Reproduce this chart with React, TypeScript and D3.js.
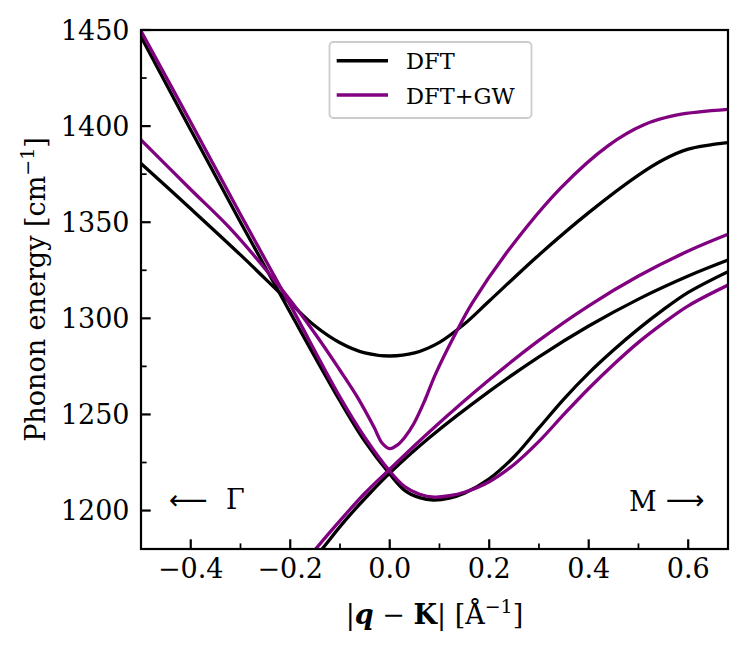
import React, { useEffect } from "react";
import * as d3 from "d3";

// ---- data (q - K in 1/Å, phonon energy in cm^-1) ----
const dft1Q = [-0.5, -0.4, -0.3, -0.2, -0.15, -0.1, -0.05, 0, 0.05, 0.1, 0.15, 0.2, 0.3, 0.4, 0.5, 0.55, 0.6, 0.68];
const dft1E = [1380.6, 1357, 1333, 1308, 1296, 1287.3, 1282, 1280.4, 1282, 1287.5, 1297, 1309, 1333, 1355, 1374.5, 1382.5, 1388, 1391.4];

const dft2Q = [-0.5, -0.4, -0.3, -0.2, -0.1, -0.05, 0, 0.03, 0.06, 0.088, 0.12, 0.15, 0.2, 0.25, 0.3, 0.35, 0.4, 0.45, 0.5, 0.55, 0.6, 0.68];
const dft2E = [1446.5, 1398, 1350, 1303, 1257, 1236, 1219, 1210.5, 1206.7, 1205.5, 1206.5, 1209, 1216.5, 1228, 1243, 1258, 1271.5, 1283.5, 1294.5, 1304.5, 1313.5, 1324.3];

const dft3Q = [-0.16, -0.136, -0.089, -0.04, 0, 0.08, 0.2, 0.3, 0.4, 0.5, 0.6, 0.68];
const dft3E = [1172.5, 1180, 1195, 1209, 1219.5, 1238, 1262, 1280, 1296, 1310, 1322, 1330.3];

const gw1Q = [-0.5, -0.4, -0.318, -0.22, -0.15, -0.1, -0.065, -0.032, -0.015, 0, 0.015, 0.03, 0.048, 0.07, 0.092, 0.132, 0.166, 0.239, 0.343, 0.44, 0.51, 0.578, 0.68];
const gw1E = [1392.8, 1367, 1346, 1316, 1292, 1273, 1259, 1243.6, 1235, 1232.2, 1234, 1238, 1245, 1257, 1271, 1292, 1308, 1335.5, 1367.6, 1390, 1400.6, 1405.8, 1408.7];

const gw2Q = [-0.5, -0.4, -0.3, -0.2, -0.1, -0.05, 0, 0.03, 0.06, 0.09, 0.12, 0.15, 0.2, 0.25, 0.3, 0.35, 0.4, 0.45, 0.5, 0.55, 0.6, 0.68];
const gw2E = [1449.5, 1402, 1354, 1307, 1259, 1238, 1220.5, 1212.5, 1208.5, 1207, 1207.7, 1209.5, 1215, 1224, 1236, 1250, 1263.5, 1276, 1287.5, 1297.5, 1306.5, 1317.3];

const gw3Q = [-0.17, -0.149, -0.099, -0.05, 0, 0.08, 0.2, 0.3, 0.4, 0.5, 0.6, 0.68];
const gw3E = [1173.5, 1180, 1195, 1209, 1221.5, 1241, 1268, 1288.5, 1306.5, 1322, 1335, 1343.7];

const xMajorTicks = [-0.4, -0.2, 0.0, 0.2, 0.4, 0.6];
const xMinorTicks = [-0.5, -0.3, -0.1, 0.1, 0.3, 0.5];
const yMajorTicks = [1200, 1250, 1300, 1350, 1400, 1450];
const yMinorTicks = [1225, 1275, 1325, 1375, 1425];

const seriesNames = ["DFT", "DFT+GW"];
const seriesColors = ["#000000", "#800080"];

const W = 747;
const H = 651;
const L = 141, R = 728, T = 30, B = 549;
const FONT = "DejaVu Serif";

export default function App() {
  useEffect(() => {
    document.body.style.margin = "0";
  }, []);

  const x = d3.scaleLinear().domain([-0.5, 0.68]).range([L, R]);
  const y = d3.scaleLinear().domain([1180, 1450]).range([B, T]);
  const line = d3
    .line<[number, number]>()
    .x((d) => x(d[0]))
    .y((d) => y(d[1]))
    .curve(d3.curveCatmullRom.alpha(0.5));

  const zip = (q: number[], e: number[]) => q.map((v, i) => [v, e[i]] as [number, number]);
  const dftCurves = [zip(dft1Q, dft1E), zip(dft2Q, dft2E), zip(dft3Q, dft3E)];
  const gwCurves = [zip(gw1Q, gw1E), zip(gw2Q, gw2E), zip(gw3Q, gw3E)];

  const fmt = (v: number) => v.toFixed(1).replace("-", "\u2212");
  const tickW = 2.2;

  return (
    <svg width={W} height={H} style={{ position: "absolute", left: 0, top: 0, display: "block" }} fontFamily={FONT}>
      <rect x={0} y={0} width={W} height={H} fill="#fff" />
      <defs>
        <clipPath id="plotClip">
          <rect x={L} y={T} width={R - L} height={B - T} />
        </clipPath>
      </defs>
      <g clipPath="url(#plotClip)">
        {dftCurves.map((c, i) => (
          <path key={"d" + i} d={line(c) || ""} fill="none" stroke={seriesColors[0]} strokeWidth={3.3} />
        ))}
        {gwCurves.map((c, i) => (
          <path key={"g" + i} d={line(c) || ""} fill="none" stroke={seriesColors[1]} strokeWidth={3.3} />
        ))}
      </g>

      {/* ticks */}
      {xMajorTicks.map((t) => (
        <g key={"xm" + t}>
          <line x1={x(t)} x2={x(t)} y1={B} y2={B - 9.7} stroke="#000" strokeWidth={tickW} />
          <text x={x(t)} y={578} fontSize={27} textAnchor="middle">{fmt(t)}</text>
        </g>
      ))}
      {xMinorTicks.map((t) => (
        <line key={"xn" + t} x1={x(t)} x2={x(t)} y1={B} y2={B - 5.6} stroke="#000" strokeWidth={tickW * 0.8} />
      ))}
      {yMajorTicks.map((t) => (
        <g key={"ym" + t}>
          <line x1={L} x2={L + 9.7} y1={y(t)} y2={y(t)} stroke="#000" strokeWidth={tickW} />
          <text x={129.5} y={y(t) + 9.8} fontSize={27} textAnchor="end">{t}</text>
        </g>
      ))}
      {yMinorTicks.map((t) => (
        <line key={"yn" + t} x1={L} x2={L + 5.6} y1={y(t)} y2={y(t)} stroke="#000" strokeWidth={tickW * 0.8} />
      ))}

      {/* frame */}
      <rect x={L} y={T} width={R - L} height={B - T} fill="none" stroke="#000" strokeWidth={2.2} />

      {/* annotations */}
      <text x={169} y={509} fontSize={27} fontFamily="DejaVu Sans">{"\u27F5"}</text>
      <text x={226} y={508.5} fontSize={27}>{"\u0393"}</text>
      <text x={629} y={510.5} fontSize={27}>M</text>
      <text x={666} y={509} fontSize={27} fontFamily="DejaVu Sans">{"\u27F6"}</text>

      {/* axis labels */}
      <text x={434.5} y={624} fontSize={27} textAnchor="middle">
        <tspan>|</tspan>
        <tspan fontWeight="bold" fontStyle="italic">q</tspan>
        <tspan>{" \u2212 "}</tspan>
        <tspan fontWeight="bold">K</tspan>
        <tspan>{"| [\u00C5"}</tspan>
        <tspan fontSize={19} dy={-11}>{"\u22121"}</tspan>
        <tspan dy={11}>]</tspan>
      </text>
      <text transform={`translate(45,${(T + B) / 2}) rotate(-90)`} fontSize={27} textAnchor="middle">
        <tspan>Phonon energy [cm</tspan>
        <tspan fontSize={19} dy={-11}>{"\u22121"}</tspan>
        <tspan dy={11}>]</tspan>
      </text>

      {/* legend */}
      <rect x={329.5} y={42} width={202} height={76} rx={4} ry={4} fill="#fff" stroke="#cccccc" strokeWidth={1.8} />
      {seriesNames.map((n, i) => (
        <g key={n}>
          <line x1={336.7} x2={388} y1={60.7 + i * 34.3} y2={60.7 + i * 34.3} stroke={seriesColors[i]} strokeWidth={3.6} />
          <text x={406} y={68.7 + i * 35.3} fontSize={22.5}>{n}</text>
        </g>
      ))}
    </svg>
  );
}
